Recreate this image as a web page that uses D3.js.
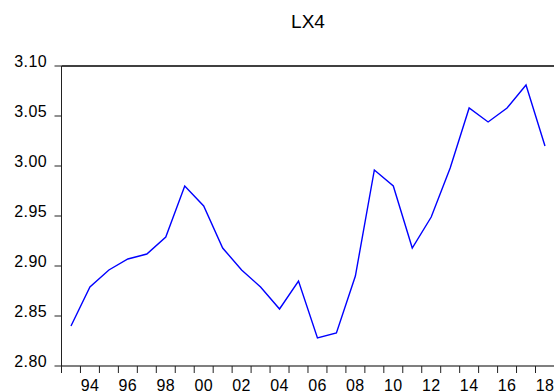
<!DOCTYPE html>
<html>
<head>
<meta charset="utf-8">
<script src="https://cdn.jsdelivr.net/npm/d3@7/dist/d3.min.js"></script>
<style>
  html, body { margin: 0; padding: 0; background: #fff; }
  svg { display: block; }
  text { font-family: "Liberation Sans", Arial, sans-serif; fill: #000; }
</style>
</head>
<body>
<svg id="chart" width="554" height="392"></svg>
<script>
// Annual LX4 series, 1993-2018
const years = [1993, 1994, 1995, 1996, 1997, 1998, 1999, 2000, 2001, 2002, 2003, 2004, 2005,
               2006, 2007, 2008, 2009, 2010, 2011, 2012, 2013, 2014, 2015, 2016, 2017, 2018];
const lx4 = [2.840, 2.879, 2.896, 2.907, 2.912, 2.929, 2.980, 2.960, 2.918, 2.896, 2.879, 2.857, 2.885,
             2.828, 2.833, 2.890, 2.996, 2.980, 2.918, 2.949, 2.998, 3.058, 3.044, 3.058, 3.081, 3.020];
const yTicks = [2.80, 2.85, 2.90, 2.95, 3.00, 3.05, 3.10];
const xLabelYears = [1994, 1996, 1998, 2000, 2002, 2004, 2006, 2008, 2010, 2012, 2014, 2016, 2018];
const title = "LX4";

const svg = d3.select("#chart");
const plotLeft = 61.5, plotTop = 66, plotBottom = 366, step = 18.96;
const plotRight = plotLeft + step * years.length;

const x = d3.scaleBand().domain(years).range([plotLeft, plotRight]).padding(0);
const y = d3.scaleLinear().domain([2.80, 3.10]).range([plotBottom, plotTop]);

// Title
svg.append("text")
  .attr("x", (plotLeft + plotRight) / 2)
  .attr("y", 28)
  .attr("text-anchor", "middle")
  .style("font-size", "19px")
  .text(title);

// Top frame line
svg.append("line")
  .attr("x1", plotLeft).attr("x2", plotRight)
  .attr("y1", y(3.10)).attr("y2", y(3.10))
  .attr("stroke", "#000").attr("stroke-width", 1.3);

// Left axis
const yAxis = svg.append("g");
yAxis.append("line")
  .attr("x1", plotLeft).attr("x2", plotLeft)
  .attr("y1", plotTop).attr("y2", plotBottom)
  .attr("stroke", "#222").attr("stroke-width", 1);
yAxis.selectAll("line.tick").data(yTicks).join("line")
  .attr("class", "tick")
  .attr("x1", plotLeft - 7).attr("x2", plotLeft)
  .attr("y1", d => y(d)).attr("y2", d => y(d))
  .attr("stroke", "#222");
yAxis.selectAll("text").data(yTicks).join("text")
  .attr("x", plotLeft - 14.5)
  .attr("y", d => y(d) + 1)
  .attr("text-anchor", "end")
  .style("font-size", "16px")
  .style("letter-spacing", "0.4px")
  .text(d => d3.format(".2f")(d));

// Bottom axis: ticks at year boundaries, labels centred on even years
const xAxis = svg.append("g");
xAxis.append("line")
  .attr("x1", plotLeft).attr("x2", plotRight)
  .attr("y1", plotBottom).attr("y2", plotBottom)
  .attr("stroke", "#000").attr("stroke-width", 1.2);
xAxis.selectAll("line.tick").data(years).join("line")
  .attr("class", "tick")
  .attr("x1", d => x(d)).attr("x2", d => x(d))
  .attr("y1", plotBottom).attr("y2", plotBottom + 7)
  .attr("stroke", "#222");
xAxis.selectAll("text").data(xLabelYears).join("text")
  .attr("x", d => x(d) + x.bandwidth() / 2)
  .attr("y", 391)
  .attr("text-anchor", "middle")
  .style("font-size", "16px")
  .style("letter-spacing", "0.4px")
  .text(d => String(d % 100).padStart(2, "0"));

// Series line
const line = d3.line()
  .x((d, i) => x(years[i]) + x.bandwidth() / 2)
  .y(d => y(d));
svg.append("path")
  .datum(lx4)
  .attr("fill", "none")
  .attr("stroke", "#0000ff")
  .attr("stroke-width", 1.4)
  .attr("stroke-linejoin", "miter")
  .attr("d", line);
</script>
</body>
</html>
